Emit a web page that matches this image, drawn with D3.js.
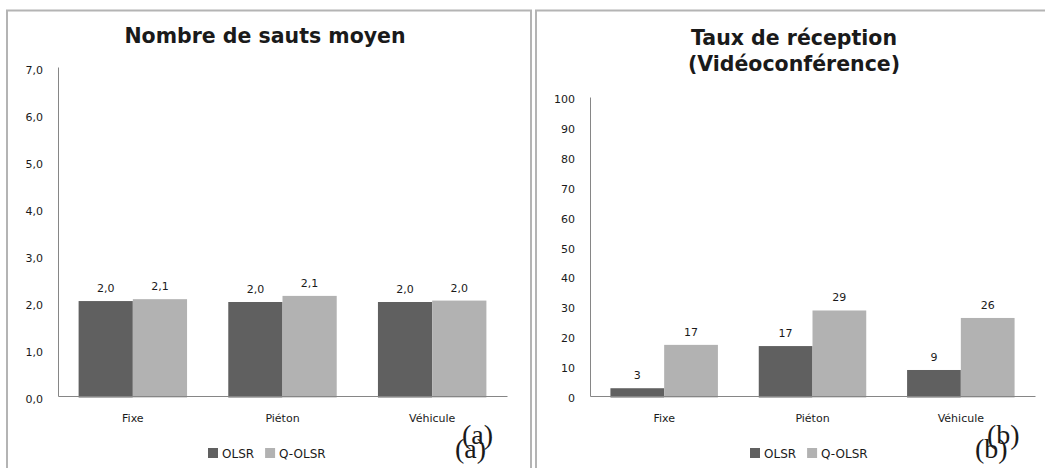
<!DOCTYPE html>
<html>
<head>
<meta charset="utf-8">
<script src="https://cdn.jsdelivr.net/npm/d3@7"></script>
<style>
  html, body { margin: 0; padding: 0; background: #fff; }
  svg { display: block; }
  text { font-family: "DejaVu Sans", Verdana, sans-serif; fill: #1a1a1a; }
</style>
</head>
<body>
<svg id="chart" width="1045" height="468"></svg>
<script>
// Mobility scenarios shared by both charts
const categories = ["Fixe", "Piéton", "Véhicule"];
const seriesNames = ["OLSR", "Q-OLSR"];

// (a) average hop count
const hopsOLSR  = [2.02, 2.00, 2.00];
const hopsQOLSR = [2.06, 2.13, 2.03];
const hopsTicks = [0, 1, 2, 3, 4, 5, 6, 7];

// (b) delivery ratio, videoconference traffic (%)
const rxOLSR  = [2.6, 16.7, 8.7];
const rxQOLSR = [17.1, 28.6, 26.1];
const rxTicks = [0, 10, 20, 30, 40, 50, 60, 70, 80, 90, 100];

const colors = { "OLSR": "#606060", "Q-OLSR": "#b2b2b2" };

const fr = d3.formatLocale({ decimal: ",", thousands: " ", grouping: [3], currency: ["", " €"] });

const svg = d3.select("#chart");

// panel frames
svg.append("rect").attr("x", 7).attr("y", 10.5).attr("width", 524).attr("height", 480)
  .attr("fill", "none").attr("stroke", "#b4b4b4").attr("stroke-width", 2);
svg.append("rect").attr("x", 536).attr("y", 10.5).attr("width", 530).attr("height", 480)
  .attr("fill", "none").attr("stroke", "#b4b4b4").attr("stroke-width", 2);

function drawPanel(cfg) {
  const g = svg.append("g");
  const x0 = d3.scaleBand().domain(categories).range(cfg.xRange).paddingInner(0).paddingOuter(0);
  const x1 = d3.scaleBand().domain(seriesNames).range([0, x0.bandwidth()]).paddingInner(0).paddingOuter(0.38);
  const y = d3.scaleLinear().domain(cfg.domain).range(cfg.yRange);

  const rows = categories.map((c, i) => ({
    cat: c,
    vals: [{ s: "OLSR", v: cfg.a[i] }, { s: "Q-OLSR", v: cfg.b[i] }]
  }));

  // bars
  const grp = g.selectAll("g.cat").data(rows).join("g")
    .attr("class", "cat")
    .attr("transform", d => `translate(${x0(d.cat)},0)`);
  grp.selectAll("rect").data(d => d.vals).join("rect")
    .attr("x", d => x1(d.s))
    .attr("width", x1.bandwidth())
    .attr("y", d => y(d.v))
    .attr("height", d => y(0) - y(d.v) + 1.5)
    .attr("fill", d => colors[d.s]);

  // value labels
  grp.selectAll("text.val").data(d => d.vals).join("text")
    .attr("class", "val")
    .attr("x", d => x1(d.s) + x1.bandwidth() / 2)
    .attr("y", d => y(d.v) - 9)
    .attr("text-anchor", "middle")
    .attr("font-size", 11)
    .text(d => cfg.fmt(d.v));

  // y axis
  const ya = g.append("g").attr("transform", `translate(${cfg.xRange[0]},0)`)
    .call(d3.axisLeft(y).tickValues(cfg.ticks).tickFormat(cfg.fmt).tickSize(0).tickSizeOuter(0).tickPadding(15));
  ya.select(".domain").attr("stroke", "#868686");
  ya.selectAll("text").attr("font-size", 11).attr("font-family", "DejaVu Sans, sans-serif")
    .attr("fill", "#1a1a1a").attr("dy", cfg.tickDy);

  // x axis
  const xa = g.append("g").attr("transform", `translate(0,${y(0)})`)
    .call(d3.axisBottom(x0).tickSize(0).tickSizeOuter(0).tickPadding(18));
  xa.select(".domain").attr("stroke", "#868686");
  xa.selectAll("text").attr("font-size", 11).attr("font-family", "DejaVu Sans, sans-serif")
    .attr("fill", "#1a1a1a");

  // title
  const t = g.append("text").attr("text-anchor", "middle")
    .attr("font-size", 20.5).attr("font-weight", "bold").attr("fill", "#000");
  cfg.title.forEach((line, i) => {
    t.append("tspan").attr("x", cfg.titleX).attr("y", cfg.titleY + i * 26).text(line);
  });

  // legend
  const lg = g.append("g").attr("transform", `translate(${cfg.legendX},448)`);
  let lx = 0;
  seriesNames.forEach(s => {
    lg.append("rect").attr("x", lx).attr("y", 0).attr("width", 10).attr("height", 10).attr("fill", colors[s]);
    const tx = lg.append("text").attr("x", lx + 14).attr("y", 10).attr("font-size", 12).text(s);
    lx += 14 + tx.node().getComputedTextLength() + 11;
  });

  // sub-figure tag (printed twice, slightly offset)
  cfg.tag.forEach(p => {
    g.append("text").attr("x", p[0]).attr("y", p[1])
      .attr("font-size", 28).attr("fill", "#000").style("font-family", "Liberation Serif, serif")
      .text(cfg.tagText);
  });
}

drawPanel({
  xRange: [58, 507], yRange: [396, 67], domain: [0, 7], ticks: hopsTicks,
  a: hopsOLSR, b: hopsQOLSR, fmt: fr.format(".1f"), tickDy: "0.62em",
  title: ["Nombre de sauts moyen"], titleX: 265, titleY: 43,
  legendX: 208, tag: [[462, 444], [455, 458]], tagText: "(a)"
});

drawPanel({
  xRange: [590, 1035], yRange: [396, 97], domain: [0, 100], ticks: rxTicks,
  a: rxOLSR, b: rxQOLSR, fmt: fr.format(".0f"), tickDy: "0.5em",
  title: ["Taux de réception", "(Vidéoconférence)"], titleX: 794, titleY: 45,
  legendX: 750, tag: [[987, 444], [975, 458]], tagText: "(b)"
});
</script>
</body>
</html>
